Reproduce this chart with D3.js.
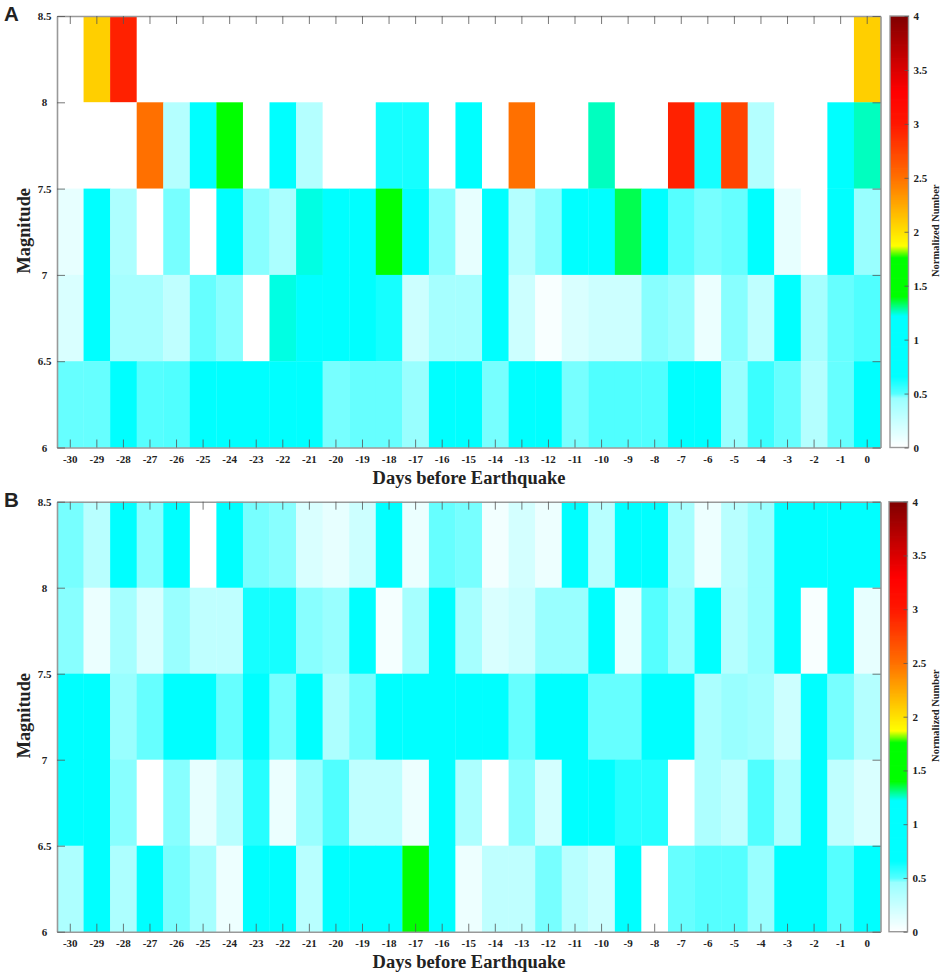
<!DOCTYPE html>
<html>
<head>
<meta charset="utf-8">
<script src="https://cdn.jsdelivr.net/npm/d3@7"></script>
<style>
  html, body { margin: 0; padding: 0; background: #fff; }
  svg { display: block; }
  text { font-family: "Liberation Serif", serif; font-weight: bold; fill: #222; }
</style>
</head>
<body>
<svg width="941" height="974"></svg>
<script>
const days = d3.range(-30, 1)
const magTicks = [6, 6.5, 7, 7.5, 8, 8.5]
const barTicks = [0, 0.5, 1, 1.5, 2, 2.5, 3, 3.5, 4]

// rows run from the top band (8-8.5) down to the bottom band (6-6.5), columns from -30 to 0
const a85 = [0,2.08,2.95,0,0,0,0,0,0,0,0,0,0,0,0,0,0,0,0,0,0,0,0,0,0,0,0,0,0,0,2.08]
const a80 = [0,0,0,2.5,.34,1,1.55,0,1,.34,0,0,.62,.62,0,1,0,2.5,0,0,1.265,0,0,2.95,.62,2.75,.34,0,0,1,1.265]
const a75 = [.11,1,.37,0,.48,0,1,.47,.38,1.24,1,1,1.55,1,.47,.11,1,.34,.47,1,1,1.344,1,.5,.48,.49,1,.11,0,1,.46]
const a70 = [.17,1,.4,.4,.29,.49,.47,0,1.24,.9,.9,.9,.62,.23,.4,.4,1,.23,.03,.17,.23,.23,.47,.46,.09,.47,.29,1,.4,.49,.51]
const a65 = [.49,.49,1,.5,.51,1,1,1,1,1,.48,.49,.49,.46,1,1,.48,1,1,.48,.51,.51,.51,1,1,.46,.55,.49,.34,.49,1]

const b85 = [.48,.32,1,.47,1,0,1,.48,.47,.17,.11,.23,1,.09,.49,.48,.06,.2,.08,1,.32,1,1,.4,.08,.32,.46,1,1,1,1]
const b80 = [.47,.09,.4,.17,.46,.29,.29,.62,.62,.47,.46,1,.05,.4,1,.4,.17,.23,.46,.46,1,.11,.5,.46,1,.34,.46,1,.03,1,.11]
const b75 = [1,1,.46,.49,1,1,.49,1,.48,1,.37,.48,1,1,1,1,1,.49,1,1,.49,.49,1,1,.38,.46,.42,.23,1,.48,.34]
const b70 = [1,1,.47,0,.47,.11,.32,.59,.09,.46,.51,.29,.29,.08,1,.37,0,.47,.2,1,1,.59,.59,0,.37,.29,.51,.37,1,.29,.17]
const b65 = [.37,1,.37,1,.48,.4,.08,1,1,.32,1,1,1,1.55,1,.08,.29,.29,.48,.32,.23,1,0,.49,.5,.5,.46,1,1,.5,1]

const panelA = [a85, a80, a75, a70, a65]
const panelB = [b85, b80, b75, b70, b65]

// jet-like map with the white-to-cyan start
const colorStops = [0, .46, .5, .66, 1.22, 1.4, 1.76, 1.87, 2.5, 3, 3.3, 4]
const colorValues = ["#ffffff", "#99ffff", "#55ffff", "#00ffff", "#00ffff", "#00ff00", "#00ff00", "#ffff00", "#ff7000", "#ff1800", "#ff0000", "#800000"]
const color = d3.scaleLinear().domain(colorStops).range(colorValues).interpolate(d3.interpolateRgb)

const svg = d3.select("svg")
const axisGray = "#999"
const left = 57, right = 880.5

function styleAxis(g) {
  g.select(".domain").attr("stroke", axisGray).attr("stroke-width", 1.6)
  g.selectAll(".tick line").attr("stroke", "#555").attr("stroke-width", 0.8)
  g.selectAll("text").attr("font-family", "Liberation Serif").attr("font-size", 11).attr("fill", "#222")
}

function drawPanel(rows, letter, top, bottom, barLeft) {
  const x = d3.scaleBand().domain(days).range([left, right])
  const y = d3.scaleLinear().domain([6, 8.5]).range([bottom, top])
  const g = svg.append("g")

  // white cells are simply the colour map at 0
  rows.forEach((row, r) => {
    const hi = 8.5 - r * 0.5
    g.append("g").selectAll("rect")
      .data(row)
      .join("rect")
      .attr("x", (d, i) => x(days[i]))
      .attr("y", y(hi))
      .attr("width", x.bandwidth() + 0.3)
      .attr("height", y(hi - 0.5) - y(hi) + 0.3)
      .attr("fill", d => color(d))
  })

  const bottomAxis = g.append("g").attr("transform", `translate(0,${bottom})`)
    .call(d3.axisBottom(x).tickSizeOuter(0).tickSizeInner(-8).tickPadding(8))
    .call(styleAxis)
  g.append("g").attr("transform", `translate(0,${top})`)
    .call(d3.axisTop(x).tickSizeOuter(0).tickSizeInner(-8).tickFormat(""))
    .call(styleAxis)
  const leftAxis = g.append("g").attr("transform", `translate(${left},0)`)
    .call(d3.axisLeft(y).tickValues(magTicks).tickFormat(d3.format("")).tickSizeOuter(0).tickSizeInner(-8).tickPadding(12))
    .call(styleAxis)
  leftAxis.selectAll("text").attr("text-anchor", "middle").attr("x", -12.5)
  g.append("g").attr("transform", `translate(${right},0)`)
    .call(d3.axisRight(y).tickValues(magTicks).tickFormat("").tickSizeOuter(0).tickSizeInner(-8))
    .call(styleAxis)

  bottomAxis.append("text")
    .attr("x", 469).attr("y", 36)
    .attr("text-anchor", "middle")
    .attr("font-size", 18.5)
    .attr("fill", "#222")
    .text("Days before Earthquake")

  g.append("text")
    .attr("transform", `translate(30,${(top + bottom) / 2 - 1}) rotate(-90)`)
    .attr("text-anchor", "middle")
    .attr("font-size", 18.3)
    .text("Magnitude")

  g.append("text")
    .attr("x", 4).attr("y", top + 5)
    .style("font-family", "Liberation Sans")
    .attr("font-size", 20.5)
    .attr("fill", "#111")
    .text(letter)

  // colour bar
  const barWidth = 18.5
  const c = d3.scaleLinear().domain([0, 4]).range([bottom, top])
  const steps = d3.range(0, 4, 0.01)
  g.append("g").selectAll("rect")
    .data(steps)
    .join("rect")
    .attr("x", barLeft)
    .attr("y", d => c(d + 0.01))
    .attr("width", barWidth)
    .attr("height", c(0) - c(0.01) + 0.8)
    .attr("fill", d => color(d))
  g.append("rect")
    .attr("x", barLeft).attr("y", top)
    .attr("width", barWidth).attr("height", bottom - top)
    .attr("fill", "none")
    .attr("stroke", axisGray)
    .attr("stroke-width", 1.4)
  const barAxis = g.append("g").attr("transform", `translate(${barLeft + barWidth},0)`)
    .call(d3.axisRight(c).tickValues(barTicks).tickFormat(d3.format("")).tickSizeOuter(0).tickSizeInner(-4).tickPadding(5))
    .call(styleAxis)
  barAxis.select(".domain").remove()

  g.append("text")
    .attr("transform", `translate(939,${(top + bottom) / 2 - 1}) rotate(-90)`)
    .attr("text-anchor", "middle")
    .attr("font-size", 10.5)
    .text("Normalized Number")
}

drawPanel(panelA, "A", 16, 447.5, 890)
drawPanel(panelB, "B", 501.7, 931.7, 889)
</script>
</body>
</html>
